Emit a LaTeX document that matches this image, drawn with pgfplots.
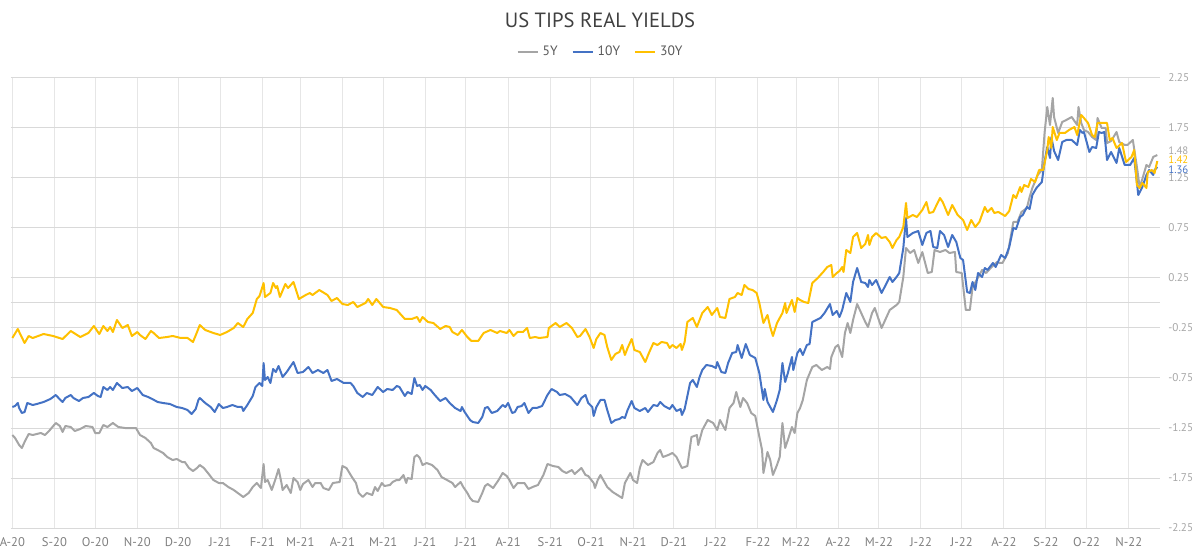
\documentclass[border=0pt]{standalone}
\usepackage{fontspec}
\setmainfont{PT Sans}
\usepackage{pgfplots}
\pgfplotsset{compat=1.18}
\definecolor{c5}{HTML}{A5A5A5}
\definecolor{c10}{HTML}{4472C4}
\definecolor{c30}{HTML}{FFC000}
\definecolor{gridh}{HTML}{D9D9D9}
\definecolor{gridv}{HTML}{E6E6E6}
\definecolor{titlec}{HTML}{404040}
\definecolor{xlab}{HTML}{7F7F7F}
\definecolor{ylab}{HTML}{A6A6A6}
\begin{document}
\begin{tikzpicture}
\useasboundingbox (0,0) rectangle (600pt,279pt);
\node[font=\fontsize{10.3}{12}\selectfont, text=titlec] at (300pt,269pt) {US TIPS REAL YIELDS};
\begin{axis}[
  at={(5.5pt,15pt)}, anchor=south west,
  scale only axis, width=574.5pt, height=225pt,
  xmin=-1, xmax=845, ymin=-2.25, ymax=2.25,
  clip mode=individual,
  axis line style={draw=none},
  major tick length=0pt,
  xtick={0,31,61,92,122,153,184,212,243,273,304,334,365,396,426,457,487,518,549,577,608,638,669,699,730,761,791,822},
  xticklabels={A-20,S-20,O-20,N-20,D-20,J-21,F-21,M-21,A-21,M-21,J-21,J-21,A-21,S-21,O-21,N-21,D-21,J-22,F-22,M-22,A-22,M-22,J-22,J-22,A-22,S-22,O-22,N-22},
  ytick={-2.25,-1.75,-1.25,-0.75,-0.25,0.25,0.75,1.25,1.75,2.25},
  yticklabels={-2.25,-1.75,-1.25,-0.75,-0.25,0.25,0.75,1.25,1.75,2.25},
  extra y ticks={0}, extra y tick labels={},
  extra y tick style={ymajorgrids=true},
  xmajorgrids, ymajorgrids,
  x grid style={gridv, line width=0.5pt},
  y grid style={gridh, line width=0.5pt},
  yticklabel pos=right,
  xticklabel style={anchor=north, inner sep=0pt, yshift=-4.6pt, font=\fontsize{6.3}{7}\selectfont, text=xlab},
  yticklabel style={anchor=west, inner sep=0pt, xshift=4pt, font=\fontsize{5.6}{6}\selectfont, text=ylab},
  legend style={at={(axis description cs:0.514,1)}, anchor=center, yshift=13pt, draw=none, fill=none,
    font=\fontsize{6.8}{7}\selectfont, text=black!65, inner sep=0pt,
    /tikz/every even column/.append style={column sep=5pt}},
  legend columns=3,
  legend image code/.code={\draw[#1, line width=1pt] (0pt,0pt) -- (10pt,0pt);},
  every axis plot/.append style={line width=1pt, line join=round, no marks},
]
\addplot[c5] coordinates {
(0,-1.32) (2,-1.35) (5,-1.42) (7,-1.45) (9,-1.39) (12,-1.31) (15,-1.32) (21,-1.30) (24,-1.32) (27,-1.28)
(32,-1.20) (35,-1.23) (37,-1.29) (39,-1.23) (43,-1.24) (46,-1.28) (50,-1.26) (54,-1.23) (59,-1.24) (61,-1.30)
(64,-1.30) (67,-1.22) (70,-1.24) (74,-1.20) (78,-1.24) (83,-1.25) (88,-1.25) (91,-1.25) (94,-1.32) (98,-1.35)
(102,-1.40) (104,-1.45) (107,-1.47) (111,-1.50) (114,-1.54) (118,-1.57) (121,-1.56) (125,-1.59) (127,-1.59) (130,-1.65)
(133,-1.68) (136,-1.65) (138,-1.62) (141,-1.65) (144,-1.70) (148,-1.77) (152,-1.80) (155,-1.80) (159,-1.84) (163,-1.87)
(166,-1.90) (170,-1.94) (174,-1.90) (177,-1.84) (180,-1.80) (183,-1.85) (185,-1.61) (186,-1.79) (188,-1.77) (191,-1.87)
(194,-1.75) (196,-1.66) (198,-1.79) (199,-1.87) (202,-1.82) (205,-1.90) (207,-1.75) (210,-1.79) (212,-1.87) (214,-1.81)
(218,-1.77) (221,-1.84) (223,-1.80) (227,-1.80) (229,-1.85) (233,-1.87) (236,-1.80) (241,-1.79) (243,-1.63) (246,-1.65)
(250,-1.74) (253,-1.80) (255,-1.90) (258,-1.94) (261,-1.90) (265,-1.92) (267,-1.84) (269,-1.88) (272,-1.80) (274,-1.83)
(278,-1.82) (280,-1.79) (283,-1.77) (285,-1.77) (288,-1.72) (290,-1.80) (291,-1.75) (294,-1.76) (296,-1.54) (298,-1.52)
(300,-1.55) (302,-1.62) (305,-1.60) (309,-1.62) (313,-1.67) (316,-1.74) (320,-1.77) (324,-1.80) (326,-1.84) (330,-1.79)
(332,-1.84) (335,-1.90) (337,-1.95) (339,-1.98) (343,-1.99) (346,-1.90) (348,-1.83) (350,-1.81) (354,-1.85) (358,-1.77)
(361,-1.70) (364,-1.73) (366,-1.77) (369,-1.85) (372,-1.80) (377,-1.80) (380,-1.86) (383,-1.84) (387,-1.82) (391,-1.72)
(394,-1.61) (398,-1.63) (402,-1.64) (405,-1.68) (408,-1.70) (412,-1.67) (414,-1.71) (419,-1.65) (422,-1.72) (424,-1.73)
(428,-1.80) (429,-1.85) (431,-1.77) (433,-1.72) (438,-1.84) (442,-1.89) (449,-1.95) (451,-1.80) (455,-1.70) (457,-1.77)
(460,-1.80) (462,-1.65) (464,-1.57) (468,-1.62) (472,-1.59) (475,-1.50) (477,-1.47) (479,-1.54) (483,-1.52) (486,-1.50)
(489,-1.54) (493,-1.65) (497,-1.63) (500,-1.34) (504,-1.32) (505,-1.42) (508,-1.27) (512,-1.17) (516,-1.20) (519,-1.27)
(521,-1.17) (525,-1.27) (528,-1.05) (531,-1.00) (533,-0.89) (536,-1.04) (538,-0.95) (541,-1.00) (544,-1.10) (547,-1.13)
(549,-1.27) (552,-1.47) (553,-1.70) (556,-1.49) (558,-1.57) (560,-1.72) (563,-1.62) (565,-1.54) (567,-1.20) (569,-1.45)
(571,-1.37) (574,-1.24) (576,-1.30) (578,-1.10) (580,-1.05) (582,-0.97) (585,-0.77) (589,-0.64) (592,-0.62) (596,-0.67)
(600,-0.64) (602,-0.66) (603,-0.54) (606,-0.44) (608,-0.42) (611,-0.54) (613,-0.30) (615,-0.20) (617,-0.30) (619,-0.17)
(622,-0.01) (625,-0.10) (628,-0.19) (630,-0.24) (633,-0.10) (635,-0.05) (637,-0.13) (640,-0.25) (644,-0.13) (646,-0.07)
(648,-0.05) (651,-0.02) (653,0.01) (656,0.26) (658,0.55) (661,0.50) (664,0.53) (667,0.40) (670,0.51) (674,0.30)
(677,0.31) (679,0.53) (683,0.51) (687,0.53) (690,0.50) (694,0.51) (695,0.31) (699,0.30) (702,-0.07) (705,-0.07)
(707,0.16) (710,0.23) (714,0.33) (717,0.30) (721,0.36) (725,0.41) (727,0.40) (729,0.40) (733,0.50) (737,0.81)
(740,0.81) (743,0.91) (747,0.95) (749,1.06) (751,1.15) (755,1.28) (758,1.33) (760,1.70) (762,1.96) (764,1.78)
(766,2.05) (767,1.86) (770,1.70) (773,1.81) (776,1.83) (780,1.86) (784,1.78) (785,1.96) (787,1.80) (789,1.73)
(792,1.71) (795,1.66) (798,1.63) (799,1.85) (802,1.75) (805,1.75) (806,1.60) (809,1.62) (813,1.71) (815,1.61)
(819,1.58) (821,1.58) (825,1.63) (828,1.36) (830,1.16) (832,1.24) (835,1.38) (837,1.36) (840,1.46) (843,1.48)
};
\addlegendentry{5Y}
\addplot[c10] coordinates {
(0,-1.04) (2,-1.03) (4,-1.00) (5,-1.05) (7,-1.10) (9,-1.09) (11,-1.00) (15,-1.02) (18,-1.01) (23,-0.99)
(28,-0.96) (32,-0.92) (34,-0.95) (37,-0.99) (39,-0.95) (43,-0.92) (45,-0.95) (49,-0.98) (52,-0.95) (56,-0.94)
(60,-0.90) (63,-0.93) (65,-0.94) (67,-0.84) (70,-0.87) (72,-0.84) (74,-0.87) (77,-0.80) (81,-0.85) (85,-0.84)
(88,-0.88) (92,-0.85) (96,-0.92) (100,-0.94) (103,-0.96) (107,-0.99) (111,-1.00) (116,-1.01) (121,-1.04) (125,-1.05)
(129,-1.07) (132,-1.11) (135,-1.06) (137,-0.97) (138,-0.95) (142,-1.00) (146,-1.04) (149,-1.09) (152,-1.01) (155,-1.05)
(158,-1.04) (162,-1.02) (166,-1.04) (169,-1.04) (170,-1.08) (173,-1.02) (177,-0.93) (179,-0.84) (182,-0.80) (184,-0.83)
(185,-0.60) (186,-0.77) (188,-0.74) (190,-0.80) (192,-0.66) (194,-0.69) (196,-0.63) (199,-0.74) (202,-0.69) (207,-0.59)
(210,-0.70) (214,-0.69) (218,-0.64) (221,-0.70) (225,-0.67) (229,-0.70) (232,-0.67) (235,-0.78) (239,-0.76) (244,-0.80)
(249,-0.80) (251,-0.83) (254,-0.90) (258,-0.94) (261,-0.90) (265,-0.92) (269,-0.84) (273,-0.89) (276,-0.86) (280,-0.87)
(283,-0.83) (285,-0.84) (289,-0.93) (291,-0.89) (294,-0.91) (296,-0.75) (298,-0.83) (300,-0.82) (302,-0.87) (304,-0.83)
(308,-0.87) (311,-0.92) (315,-0.98) (319,-0.95) (322,-1.00) (326,-1.05) (330,-1.08) (331,-1.04) (333,-1.09) (337,-1.17)
(339,-1.19) (343,-1.20) (346,-1.14) (348,-1.05) (350,-1.04) (353,-1.10) (357,-1.08) (361,-1.02) (363,-1.04) (365,-1.00)
(368,-1.10) (370,-1.09) (372,-1.04) (375,-1.03) (377,-1.00) (380,-1.10) (383,-1.05) (386,-1.05) (390,-1.03) (394,-0.92)
(397,-0.86) (401,-0.89) (403,-0.92) (407,-0.91) (411,-0.94) (414,-0.99) (416,-1.02) (419,-0.95) (422,-0.92) (424,-1.00)
(427,-1.04) (428,-1.13) (430,-1.04) (433,-0.97) (436,-0.97) (438,-1.07) (441,-1.20) (444,-1.17) (447,-1.16) (449,-1.14)
(451,-1.15) (453,-1.07) (456,-0.98) (458,-1.05) (462,-1.08) (466,-1.05) (468,-1.09) (472,-1.02) (475,-1.03) (477,-0.99)
(480,-1.03) (484,-1.06) (486,-1.02) (489,-1.08) (492,-1.06) (493,-1.12) (495,-1.06) (499,-0.80) (501,-0.77) (504,-0.84)
(506,-0.74) (508,-0.67) (511,-0.62) (515,-0.63) (518,-0.65) (519,-0.59) (522,-0.69) (525,-0.70) (527,-0.60) (530,-0.50)
(533,-0.49) (534,-0.42) (537,-0.55) (540,-0.41) (543,-0.52) (547,-0.55) (550,-0.70) (553,-0.97) (554,-0.86) (556,-0.99)
(560,-1.09) (563,-0.97) (565,-0.87) (567,-0.60) (569,-0.79) (571,-0.70) (574,-0.54) (575,-0.67) (578,-0.50) (580,-0.46)
(582,-0.52) (585,-0.42) (587,-0.41) (589,-0.19) (595,-0.15) (598,-0.10) (602,-0.01) (604,-0.12) (607,-0.08) (609,-0.14)
(611,-0.07) (614,0.10) (617,0.01) (619,0.21) (622,0.35) (625,0.21) (628,0.20) (630,0.16) (631,0.23) (633,0.18)
(636,0.23) (640,0.10) (643,0.18) (646,0.26) (648,0.21) (651,0.26) (653,0.30) (656,0.55) (658,0.85) (659,0.66)
(663,0.70) (667,0.72) (670,0.58) (673,0.70) (676,0.72) (678,0.56) (681,0.55) (683,0.72) (686,0.68) (689,0.56)
(692,0.68) (695,0.61) (698,0.45) (700,0.43) (703,0.11) (705,0.10) (707,0.21) (709,0.13) (711,0.30) (714,0.26)
(716,0.35) (718,0.33) (722,0.40) (724,0.36) (728,0.48) (731,0.45) (734,0.56) (737,0.75) (739,0.74) (742,0.86)
(744,0.88) (747,0.96) (749,0.94) (751,1.08) (754,1.15) (758,1.21) (760,1.41) (762,1.56) (764,1.45) (765,1.66)
(767,1.52) (770,1.43) (773,1.61) (776,1.63) (780,1.63) (784,1.58) (786,1.73) (788,1.70) (789,1.71) (793,1.51)
(795,1.56) (798,1.55) (800,1.71) (802,1.70) (804,1.71) (806,1.43) (809,1.51) (813,1.40) (815,1.55) (819,1.38)
(823,1.38) (826,1.45) (829,1.08) (832,1.16) (835,1.28) (837,1.33) (840,1.28) (841,1.33) (843,1.36)
};
\addlegendentry{10Y}
\addplot[c30] coordinates {
(0,-0.35) (4,-0.26) (9,-0.40) (12,-0.33) (15,-0.35) (23,-0.31) (30,-0.33) (37,-0.36) (43,-0.28) (50,-0.34)
(56,-0.30) (60,-0.23) (64,-0.31) (67,-0.23) (70,-0.28) (72,-0.24) (74,-0.29) (77,-0.17) (81,-0.25) (85,-0.22)
(88,-0.33) (92,-0.29) (94,-0.32) (98,-0.36) (102,-0.28) (104,-0.30) (108,-0.35) (114,-0.34) (118,-0.33) (124,-0.35)
(129,-0.35) (133,-0.39) (136,-0.29) (138,-0.22) (142,-0.27) (148,-0.30) (153,-0.32) (158,-0.29) (163,-0.25) (166,-0.20)
(170,-0.24) (173,-0.16) (177,-0.10) (180,0.04) (182,0.07) (185,0.20) (186,0.06) (190,0.10) (192,0.20) (194,0.15)
(195,0.17) (197,0.06) (201,0.19) (203,0.15) (207,0.21) (211,0.04) (216,0.08) (219,0.10) (221,0.08) (226,0.13)
(232,0.08) (235,0.02) (239,0.05) (243,-0.01) (247,-0.02) (251,0.01) (254,-0.04) (260,0.00) (262,0.04) (265,-0.02)
(268,0.04) (273,-0.04) (278,-0.05) (283,-0.07) (289,-0.16) (294,-0.16) (298,-0.14) (300,-0.19) (302,-0.14) (306,-0.19)
(310,-0.20) (315,-0.26) (319,-0.23) (322,-0.24) (324,-0.29) (328,-0.32) (331,-0.27) (335,-0.34) (338,-0.38) (343,-0.38)
(347,-0.30) (352,-0.27) (357,-0.30) (359,-0.28) (364,-0.30) (366,-0.27) (369,-0.33) (372,-0.29) (376,-0.29) (379,-0.25)
(381,-0.35) (385,-0.34) (388,-0.35) (394,-0.34) (395,-0.25) (400,-0.20) (403,-0.24) (408,-0.20) (412,-0.25) (416,-0.34)
(418,-0.33) (422,-0.26) (425,-0.34) (428,-0.45) (430,-0.36) (433,-0.30) (436,-0.32) (438,-0.44) (441,-0.57) (444,-0.51)
(447,-0.49) (449,-0.42) (451,-0.52) (453,-0.45) (456,-0.36) (458,-0.47) (462,-0.49) (466,-0.59) (469,-0.49) (472,-0.40)
(475,-0.42) (478,-0.39) (482,-0.40) (484,-0.45) (486,-0.42) (489,-0.45) (492,-0.41) (493,-0.47) (495,-0.39) (497,-0.19)
(501,-0.15) (504,-0.24) (508,-0.10) (512,-0.04) (515,-0.12) (519,-0.05) (521,-0.14) (525,-0.15) (528,0.04) (532,0.06)
(534,0.10) (537,0.08) (539,0.18) (542,0.14) (545,0.13) (548,0.10) (550,0.00) (553,-0.20) (556,-0.12) (558,-0.24)
(560,-0.33) (563,-0.20) (567,-0.10) (569,0.00) (570,-0.10) (574,0.03) (576,-0.09) (578,0.05) (580,0.03) (583,0.01)
(586,0.00) (589,0.20) (593,0.25) (597,0.31) (600,0.36) (603,0.38) (604,0.26) (607,0.30) (609,0.32) (611,0.36)
(612,0.31) (614,0.53) (617,0.50) (619,0.66) (622,0.70) (625,0.55) (628,0.59) (630,0.68) (631,0.58) (633,0.66)
(636,0.70) (640,0.65) (643,0.66) (646,0.61) (648,0.55) (651,0.63) (653,0.66) (656,0.76) (658,1.00) (659,0.85)
(663,0.88) (666,0.86) (670,0.93) (673,1.01) (675,0.90) (678,0.91) (683,1.05) (685,1.01) (689,0.88) (692,0.98)
(696,0.88) (700,0.83) (703,0.73) (706,0.83) (709,0.76) (712,0.81) (716,0.96) (718,0.91) (721,0.95) (723,0.90)
(726,0.91) (731,0.87) (734,0.92) (737,1.08) (739,1.05) (742,1.16) (743,1.11) (745,1.18) (748,1.16) (750,1.24)
(753,1.21) (756,1.33) (759,1.33) (762,1.53) (763,1.66) (765,1.55) (766,1.76) (769,1.63) (771,1.70) (775,1.70)
(778,1.73) (782,1.76) (784,1.68) (787,1.88) (789,1.85) (792,1.80) (795,1.68) (797,1.66) (799,1.80) (803,1.80)
(806,1.80) (808,1.63) (810,1.65) (813,1.55) (817,1.60) (820,1.41) (824,1.46) (826,1.53) (828,1.18) (830,1.15)
(832,1.20) (835,1.15) (836,1.31) (839,1.33) (841,1.30) (843,1.42)
};
\addlegendentry{30Y}
\node[anchor=west, inner sep=0pt, xshift=4pt, font=\fontsize{5.4}{6}\selectfont, text=c5] at (axis cs:845,1.525) {1.48};
\node[anchor=west, inner sep=0pt, xshift=4pt, font=\fontsize{5.4}{6}\selectfont, text=c30] at (axis cs:845,1.43) {1.42};
\node[anchor=west, inner sep=0pt, xshift=4pt, font=\fontsize{5.4}{6}\selectfont, text=c10] at (axis cs:845,1.335) {1.36};
\end{axis}
\end{tikzpicture}
\end{document}
